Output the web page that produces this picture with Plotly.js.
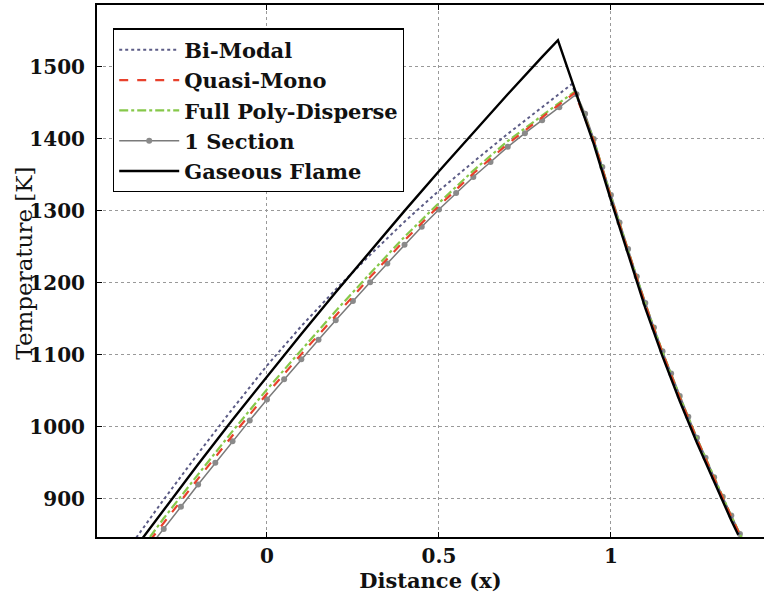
<!DOCTYPE html>
<html>
<head>
<meta charset="utf-8">
<script src="https://cdn.plot.ly/plotly-3.0.1.min.js"></script>
<style>html,body{margin:0;padding:0;background:#fff;}#chart{width:764px;height:603px;}</style>
</head>
<body>
<div id="chart"></div>
<script>
// ---- data ----
const seriesNames = ["Bi-Modal", "Quasi-Mono", "Full Poly-Disperse", "1 Section", "Gaseous Flame"];

const xBiModal = [-0.38,-0.3,-0.2,-0.1,0,0.1,0.2,0.3,0.4,0.5,0.6,0.7,0.8,0.886,0.95,1.0,1.05,1.1,1.15,1.2,1.25,1.3,1.35,1.38];
const tBiModal = [846,899,963,1025,1085,1140,1191,1239,1285,1328,1368,1407,1444,1476,1398,1318,1243,1169,1102,1040,982,927,874,845];

const xQuasi = [-0.34,-0.3,-0.2,-0.1,0,0.1,0.2,0.3,0.4,0.5,0.6,0.7,0.8,0.895,0.95,1.0,1.05,1.1,1.15,1.2,1.25,1.3,1.35,1.38];
const tQuasi = [842,867,928,988,1046,1101,1155,1208,1259,1307,1352,1393,1430,1464,1398,1319,1244,1170,1103,1041,983,928,875,845];

const xPoly = [-0.34,-0.3,-0.2,-0.1,0,0.1,0.2,0.3,0.4,0.5,0.6,0.7,0.8,0.895,0.95,1.0,1.05,1.1,1.15,1.2,1.25,1.3,1.35,1.38];
const tPoly = [847,873,934,994,1052,1107,1161,1213,1264,1311,1356,1397,1433,1466,1399,1320,1245,1171,1104,1042,984,929,876,846];

const xSection = [-0.35,-0.3,-0.25,-0.2,-0.15,-0.1,-0.05,0,0.05,0.1,0.15,0.2,0.25,0.3,0.35,0.4,0.45,0.5,0.55,0.6,0.65,0.7,0.75,0.8,0.85,0.9,0.925,0.95,0.975,1.0,1.025,1.05,1.075,1.1,1.125,1.15,1.175,1.2,1.225,1.25,1.275,1.3,1.325,1.35,1.375,1.4];
const tSection = [828,858,889,920,950,980,1009,1038,1066,1094,1121,1148,1175,1201,1227,1253,1278,1302,1325,1347,1368,1389,1408,1426,1444,1462,1435,1400,1361,1322,1284,1247,1209,1172,1138,1105,1074,1043,1014,985,957,930,903,877,851,826];

const xGas = [-0.37,-0.3,-0.2,-0.1,0,0.1,0.2,0.3,0.4,0.5,0.6,0.7,0.8,0.846,0.9,0.95,1.0,1.05,1.1,1.15,1.2,1.25,1.3,1.35,1.37];
const tGas = [840,885,948,1010,1070,1129,1187,1244,1300,1355,1409,1462,1514,1537,1462,1393,1315,1240,1165,1098,1036,978,923,870,850];

const xTicks = [0, 0.5, 1];
const xTickLabels = ["0", "0.5", "1"];
const yTicks = [900, 1000, 1100, 1200, 1300, 1400, 1500];
const yTickLabels = ["900", "1000", "1100", "1200", "1300", "1400", "1500"];

// ---- traces ----
const FONT = "DejaVu Serif";
const traces = [
  {x: xSection, y: tSection, name: seriesNames[3], legendrank: 4, mode: "lines+markers",
   line: {color: "#7a7a7a", width: 1.5}, marker: {color: "#8a8a8a", size: 6, symbol: "circle"}},
  {x: xBiModal, y: tBiModal, name: seriesNames[0], legendrank: 1, mode: "lines",
   line: {color: "#5c5c86", width: 2, dash: "dot"}},
  {x: xPoly, y: tPoly, name: seriesNames[2], legendrank: 3, mode: "lines",
   line: {color: "#86c84a", width: 2.2, dash: "dashdot"}},
  {x: xQuasi, y: tQuasi, name: seriesNames[1], legendrank: 2, mode: "lines",
   line: {color: "#e8412c", width: 2.2, dash: "dash"}},
  {x: xGas, y: tGas, name: seriesNames[4], legendrank: 5, mode: "lines",
   line: {color: "#000000", width: 2.4}}
];

const layout = {
  width: 764, height: 603,
  margin: {l: 97, r: 0, t: 5, b: 66},
  paper_bgcolor: "#fff", plot_bgcolor: "#fff",
  showlegend: true,
  legend: {
    x: 0.024, y: 0.956, xanchor: "left", yanchor: "top",
    bgcolor: "#fff", bordercolor: "#000", borderwidth: 1.2,
    font: {family: FONT, size: 21, color: "#111", weight: "bold"},
    itemwidth: 60, tracegroupgap: 0
  },
  xaxis: {
    range: [-0.494, 1.445],
    tickvals: xTicks, ticktext: xTickLabels,
    ticks: "inside", ticklen: 5, tickcolor: "#000",
    showline: true, linecolor: "#000", linewidth: 2, mirror: "ticks",
    showgrid: true, gridcolor: "#999", griddash: "dot", gridwidth: 1,
    zeroline: false,
    tickfont: {family: FONT, size: 20, color: "#111", weight: "bold"},
    title: {text: "Distance (x)", font: {family: FONT, size: 21, color: "#111", weight: "bold"}, standoff: 6}
  },
  yaxis: {
    range: [847, 1586],
    tickvals: yTicks, ticktext: yTickLabels,
    ticks: "inside", ticklen: 5, tickcolor: "#000",
    showline: true, linecolor: "#000", linewidth: 2, mirror: false,
    showgrid: true, gridcolor: "#999", griddash: "dot", gridwidth: 1,
    zeroline: false,
    ticklabelstandoff: 6,
    tickfont: {family: FONT, size: 20, color: "#111", weight: "bold"}
  },
  annotations: [{
    text: "Temperature [K]", xref: "paper", yref: "paper",
    x: -0.11, y: 0.515, xanchor: "center", yanchor: "middle",
    textangle: -90, showarrow: false,
    font: {family: FONT, size: 23, color: "#111"}
  }]
};

Plotly.newPlot("chart", traces, layout, {displayModeBar: false, staticPlot: true});
</script>
</body>
</html>
